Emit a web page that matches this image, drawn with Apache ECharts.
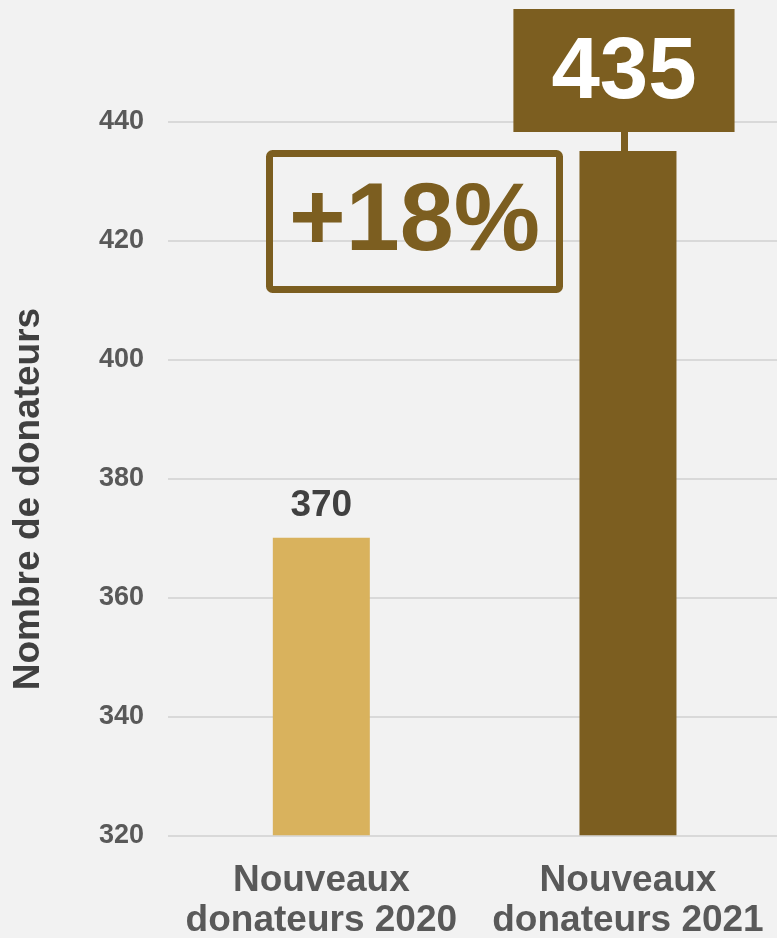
<!DOCTYPE html>
<html>
<head>
<meta charset="utf-8">
<script src="https://cdn.jsdelivr.net/npm/echarts@6/dist/echarts.min.js"></script>
<style>
  html, body { margin: 0; padding: 0; background: #f2f2f2; }
  #chart { width: 777px; height: 938px; }
</style>
</head>
<body>
<div id="chart"></div>
<script>
// ---- data ----
const categories = ['Nouveaux\ndonateurs 2020', 'Nouveaux\ndonateurs 2021'];
const donors = [370, 435];
const yMin = 320;
const yMax = 460;
const yInterval = 20;
const yAxisTitle = 'Nombre de donateurs';

// ---- styles ----
const FONT = '"Liberation Sans", Arial, Helvetica, sans-serif';
const BROWN = '#7c5e20';
const GOLD = '#d9b25d';
const barColors = [GOLD, BROWN];

const growth = Math.round((donors[1] - donors[0]) / donors[0] * 100);
const growthText = (growth >= 0 ? '+' : '') + growth + '%';

const chart = echarts.init(document.getElementById('chart'), null, { renderer: 'canvas' });

const seriesData = donors.map((v, i) => {
  const d = { value: v, itemStyle: { color: barColors[i] } };
  if (i === 0) {
    d.label = {
      show: true, position: 'top', distance: 14,
      color: '#404040', fontSize: 37, fontWeight: 'bold', fontFamily: FONT
    };
  } else {
    d.label = {
      show: true, position: 'top', distance: 19, offset: [-4, 0],
      color: '#ffffff', fontSize: 87, lineHeight: 87, fontWeight: 'bold', fontFamily: FONT,
      backgroundColor: BROWN, padding: [21, 38, 15, 38]
    };
  }
  return d;
});

const option = {
  backgroundColor: '#f2f2f2',
  animation: false,
  grid: {
    left: 168, width: 613.3, bottom: 102.7, height: 833,
    containLabel: false, outerBoundsMode: 'none'
  },
  xAxis: {
    type: 'category',
    data: categories,
    axisLine: { show: false },
    axisTick: { show: false },
    axisLabel: {
      interval: 0, margin: 25,
      color: '#595959', fontSize: 37, lineHeight: 40, fontWeight: 'bold', fontFamily: FONT
    }
  },
  yAxis: {
    type: 'value',
    min: yMin, max: yMax, interval: yInterval,
    axisLine: { show: false },
    axisTick: { show: false },
    axisLabel: {
      margin: 24, color: '#595959', fontSize: 27, fontWeight: 'bold', fontFamily: FONT,
      showMaxLabel: false
    },
    splitLine: { show: true, showMaxLine: false, lineStyle: { color: '#d9d9d9', width: 2 } }
  },
  series: [{
    type: 'bar',
    data: seriesData,
    barWidth: 97,
    z: 3
  }]
};
chart.setOption(option);

// annotations anchored through the chart's own scales
const top2 = chart.convertToPixel({ seriesIndex: 0 }, [1, donors[1]]);

chart.setOption({
  graphic: [
    {
      type: 'text',
      x: 29, y: 499, rotation: Math.PI / 2,
      style: {
        text: yAxisTitle, fill: '#404040',
        font: 'bold 37px ' + FONT,
        textAlign: 'center', textVerticalAlign: 'middle'
      }
    },
    {
      type: 'line',
      shape: { x1: top2[0] - 3.5, y1: top2[1], x2: top2[0] - 3.5, y2: top2[1] - 20 },
      style: { stroke: BROWN, lineWidth: 7 },
      z: 2
    },
    {
      type: 'rect',
      shape: { x: 269.5, y: 153.5, width: 290, height: 136, r: 3 },
      style: { fill: 'none', stroke: BROWN, lineWidth: 7 },
      z: 5
    },
    {
      type: 'text',
      x: 414.5, y: 223,
      style: {
        text: growthText, fill: BROWN,
        font: 'bold 97px ' + FONT,
        textAlign: 'center', textVerticalAlign: 'middle'
      },
      z: 5
    }
  ]
});
</script>
</body>
</html>
